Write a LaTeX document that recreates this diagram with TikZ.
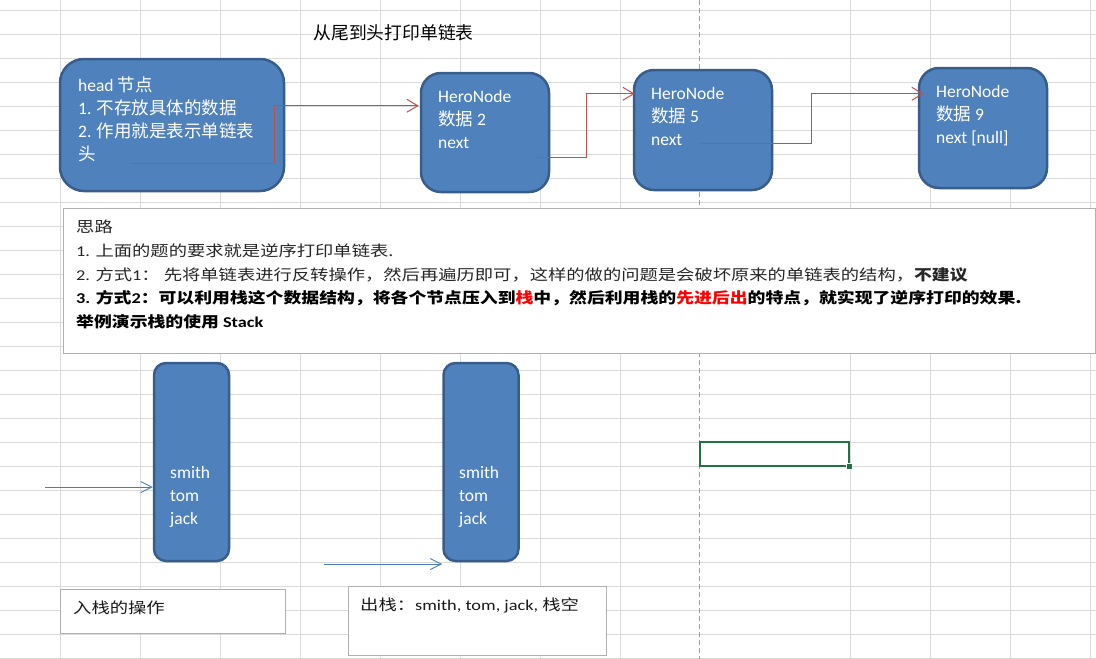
\documentclass[tikz,border=0pt]{standalone}
\usepackage{fontspec}
\setmainfont{Carlito}
\newfontfamily\cjk{Noto Sans CJK SC}
\newfontfamily\cjkw[FakeStretch=1.22, BoldFeatures={FakeStretch=1.19}]{Noto Sans CJK SC}
\newfontfamily\latw[FakeStretch=1.22]{Carlito}
\usetikzlibrary{arrows.meta, calc}

\definecolor{blkfill}{HTML}{4F81BD}
\definecolor{blkline}{HTML}{385D8A}
\definecolor{linkred}{HTML}{C0504D}
\definecolor{linkblue}{HTML}{4A7EBB}
\definecolor{cellgrid}{HTML}{DADADA}
\definecolor{boxgray}{HTML}{B0B0B0}
\definecolor{selgreen}{HTML}{217346}

\begin{document}
\begin{tikzpicture}[x=1pt, y=-1pt,
    blk/.style={draw=blkline, fill=blkfill, line width=2.5pt, inner sep=0pt},
    wtxt/.style={text=white, align=left, anchor=north west, inner sep=0pt,
      font=\fontsize{17.5}{23}\selectfont},
    note/.style={draw=boxgray, fill=white, line width=0.8pt, anchor=north west, inner sep=0pt},
    ktxt/.style={text=black!85, align=left, anchor=north west, inner sep=0pt,
      font=\cjkw\fontsize{15}{23.7}\selectfont},
    link/.style={draw=linkred, line width=1pt, -{Straight Barb[length=11pt, width=13pt]}},
    push/.style={draw=linkblue, line width=0.9pt, -{Straight Barb[length=11pt, width=11pt]}},
    elbow/.style={to path={-| ($(\tikztostart)!.5!(\tikztotarget)$) |- (\tikztotarget)}}]

  \useasboundingbox (0,0) rectangle (1096,659);

  % 表格网格
  \foreach \gx in {60,140,220,300,380,460,540,620,850,930,1010,1090}
    \draw[cellgrid, line width=0.9pt] (\gx,0) -- (\gx,659);
  \foreach \gy in {10,34,...,658}
    \draw[cellgrid, line width=0.9pt] (0,\gy) -- (1096,\gy);
  % 分页线
  \draw[gray!75, line width=0.9pt, dash pattern=on 5pt off 3pt] (699.5,0) -- (699.5,659);

  % 标题
  \node[anchor=west, font=\cjk\fontsize{17.8}{20}\selectfont] (title) at (310,33) {从尾到头打印单链表};

  % 链表节点
  \node[blk, rounded corners=24pt, minimum width=224pt, minimum height=132pt] (head) at (172,125) {};
  \node[wtxt] (headtxt) at (78,77) {head {\cjk 节点}\\1. {\cjk 不存放具体的数据}\\2. {\cjk 作用就是表示单链表}\\{\cjk 头}};

  \node[blk, rounded corners=20pt, minimum width=128pt, minimum height=119pt] (n2) at (485,132.5) {};
  \node[wtxt] (n2txt) at (438,90) {HeroNode\\{\cjk 数据} 2\\next};

  \node[blk, rounded corners=20pt, minimum width=138pt, minimum height=120pt] (n5) at (703,130) {};
  \node[wtxt] (n5txt) at (651,87) {HeroNode\\{\cjk 数据} 5\\next};

  \node[blk, rounded corners=20pt, minimum width=128pt, minimum height=120pt] (n9) at (983,128) {};
  \node[wtxt] (n9txt) at (936,85) {HeroNode\\{\cjk 数据} 9\\next [null]};

  % next 指针
  \coordinate (hp) at (131,163);
  \coordinate (p2) at (538,157);
  \coordinate (p5) at (700,143);
  \coordinate (t2) at ($(n2.north west)+(-1,34)$);
  \coordinate (t5) at ($(n5.north west)+(2,25)$);
  \coordinate (t9) at ($(n9.north west)+(6,27)$);
  \draw[link] (hp) to[elbow] (t2);
  \draw[link] (p2) to[elbow] (t5);
  \draw[link] (p5) to[elbow] (t9);

  % 思路
  \node[note, minimum width=1032pt, minimum height=145pt] (idea) at (63,208) {};
  \node[ktxt] (ideatxt) at (76,220) {思路\\%
{\latw 1.} 上面的题的要求就是逆序打印单链表.\\%
{\latw 2.} 方式{\latw 1}：\ 先将单链表进行反转操作，然后再遍历即可，这样的做的问题是会破坏原来的单链表的结构，{\bfseries 不建议}\\%
{\bfseries\color{black}{\latw 3.} 方式{\latw 2}：可以利用栈这个数据结构，将各个节点压入到\textcolor{red}{栈}中，然后利用栈的\textcolor{red}{先进后出}的特点，就实现了逆序打印的效果.}\\%
{\bfseries\color{black}举例演示栈的使用 {\latw Stack}}};

  % 栈
  \node[blk, rounded corners=12pt, minimum width=75pt, minimum height=198pt] (s1) at (191.5,462) {};
  \node[wtxt] (s1txt) at (170,466) {smith\\tom\\jack};
  \node[blk, rounded corners=12pt, minimum width=75pt, minimum height=198pt] (s2) at (481,462) {};
  \node[wtxt] (s2txt) at (459,466) {smith\\tom\\jack};

  \coordinate (in0) at (45,487);
  \coordinate (out0) at (324,564);
  \draw[push] (in0) -- (in0 -| s1.west);
  \draw[push] (out0) -- (out0 -| s2.west);

  % 说明框
  \node[note, minimum width=225pt, minimum height=44pt] (pushbox) at (60,589) {};
  \node[ktxt, text=black!90] (pushtxt) at (73,601) {入栈的操作};
  \node[note, minimum width=258pt, minimum height=69pt] (popbox) at (348,586) {};
  \node[ktxt, text=black!90] (poptxt) at (360,598) {出栈：{\latw smith, tom, jack,} 栈空};

  % 选中单元格
  \draw[selgreen, line width=2pt] (699.5,442) rectangle (849,466);
  \fill[selgreen, draw=white, line width=0.7pt] (846.5,463.5) rectangle ++(6,6);

\end{tikzpicture}
\end{document}
